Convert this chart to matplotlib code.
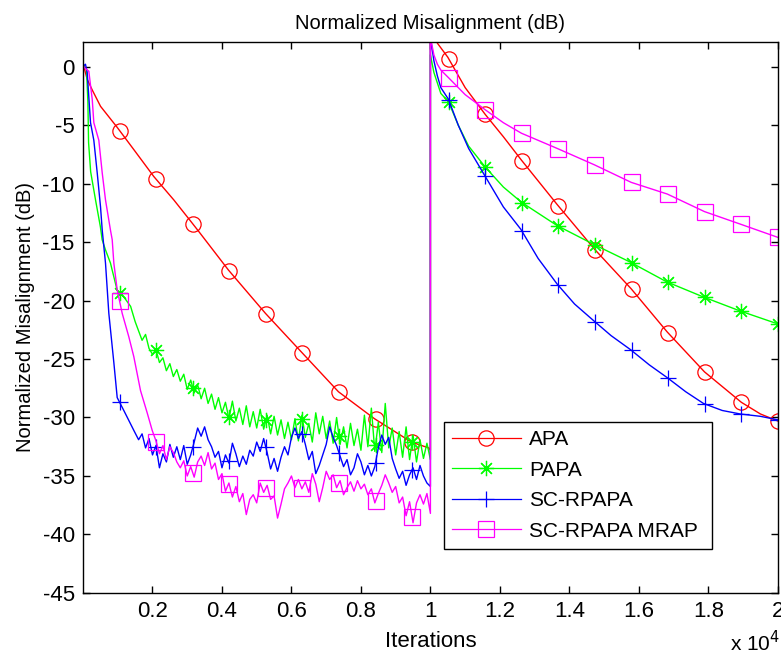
import numpy as np
import matplotlib
matplotlib.use("Agg")
import matplotlib.pyplot as plt
from matplotlib.lines import Line2D

plt.rcParams["font.family"] = ["Liberation Sans", "DejaVu Sans"]
plt.rcParams["axes.unicode_minus"] = False

# ---- data (iterations, dB) ----
names = ["APA", "PAPA", "SC-RPAPA", "SC-RPAPA MRAP"]
colors = ["#ff0000", "#00ff00", "#0000ff", "#ff00ff"]

apa_x = [0, 23, 121, 265, 504, 984, 1462, 2037, 2613, 3094, 3332, 4187, 5252, 6317,
         7353, 8388, 9453, 9950, 10000,
         10000, 10200, 10500, 11000, 11580, 12100, 12620, 13650, 14720, 15780, 16820,
         17890, 18950, 19500, 20000]
apa_y = [0, 0.0, -1.1, -2.0, -3.4, -5.2, -7.1, -9.4, -11.4, -13.2, -14.1, -17.4, -21.1, -24.5,
         -27.8, -30.1, -32.1, -32.6, -32.8,
         4.0, 2.0, 0.8, -1.8, -4.1, -6.0, -8.0, -11.8, -15.6, -19.0, -22.7,
         -26.1, -28.7, -29.7, -30.3]

papa_head_x = [0, 100, 140, 160, 220, 360, 500, 550, 650, 790, 980, 1200, 1370, 1500]
papa_head_y = [0, -0.2, -3.0, -6.5, -9.0, -11.4, -13.7, -14.8, -15.7, -16.8, -19.1, -19.8, -20.5, -21.8]
papa_tail_x = list(range(1600, 10001, 100))
papa_tail_y = [-22.6, -23.4, -22.9, -24.1, -24.6, -24.2, -25.3, -24.9, -26.0, -25.4,
               -26.5, -25.9, -26.9, -26.3, -27.6, -26.8, -27.9, -27.2, -28.4, -27.5,
               -28.8, -28.0, -29.3, -28.3, -29.6, -28.7, -30.1, -28.6, -30.3, -29.2,
               -30.6, -29.0, -30.8, -29.5, -30.9, -29.3, -31.0, -29.8, -31.4, -29.9,
               -31.5, -30.2, -31.8, -30.4, -31.9, -30.1, -32.0, -29.8, -31.7, -30.5,
               -32.1, -29.6, -31.4, -29.9, -31.8, -30.3, -32.2, -30.0, -32.3, -30.8,
               -32.6, -30.5, -32.4, -31.0, -32.8, -29.8, -32.5, -29.2, -32.9, -30.4,
               -33.0, -28.8, -32.6, -30.9, -33.2, -31.2, -33.4, -30.8, -33.6, -31.5,
               -33.8, -31.9, -33.5, -32.2, -33.6]
papa_2_x = [10000, 10100, 10300, 10520, 10800, 11100, 11580, 12100, 12620, 13650, 14700,
            15740, 16800, 17860, 18920, 20000]
papa_2_y = [1.0, -0.5, -2.3, -3.0, -5.0, -6.8, -8.6, -10.3, -11.6, -13.6, -15.2,
            -16.7, -18.4, -19.7, -20.9, -22.0]

sc_head_x = [0, 70, 120, 216, 311, 409, 504, 553, 647, 743, 887, 984, 1174, 1462, 1600]
sc_head_y = [0, 0.2, -0.5, -4.8, -6.3, -9.1, -12.0, -14.0, -16.8, -21.1, -25.3, -28.3, -29.4, -31.1, -31.9]
sc_tail_x = list(range(1700, 10001, 100))
sc_tail_y = [-31.4, -32.6, -31.8, -33.2, -32.4, -34.3, -33.1, -33.8, -32.3, -33.4,
             -32.5, -33.6, -32.4, -34.0, -33.2, -32.1, -30.9, -31.6, -30.8, -31.9,
             -32.5, -33.4, -32.9, -34.3, -33.2, -33.9, -32.2, -33.1, -34.2, -33.3,
             -34.0, -32.8, -33.3, -32.1, -32.9, -31.8, -33.0, -34.4, -33.5, -34.6,
             -33.4, -32.5, -33.2, -31.7, -30.9, -31.8, -31.2, -32.3, -33.6, -32.9,
             -34.8, -34.1, -33.2, -32.3, -30.8, -31.7, -32.4, -33.3, -34.2, -33.6,
             -34.9, -34.3, -33.1, -33.8, -34.9, -34.1, -35.0, -34.2, -32.6, -31.5,
             -32.3, -31.7, -33.5, -34.4, -35.2, -34.6, -35.8, -34.9, -34.3, -35.3,
             -34.1, -35.0, -35.6, -35.9]
sc_2_x = [10000, 10100, 10200, 10300, 10520, 10800, 11100, 11580, 12100, 12600, 13100,
          13650, 14150, 14690, 15200, 15760, 16300, 16820, 17350, 17860, 18400, 18920,
          19500, 20000]
sc_2_y = [2.5, 0.5, -0.8, -1.8, -2.8, -5.0, -7.0, -9.4, -12.0, -13.9, -16.4,
          -18.6, -20.3, -21.7, -23.0, -24.2, -25.5, -26.6, -27.8, -28.8, -29.4, -29.7,
          -29.9, -30.2]

mrap_head_x = [0, 167, 265, 311, 455, 553, 647, 791, 840, 887, 984, 1128, 1318, 1462,
               1655, 1847, 1991]
mrap_head_y = [0, -0.4, -2.8, -4.8, -6.3, -9.1, -11.4, -14.0, -14.8, -16.8, -19.1, -21.1,
               -23.1, -24.8, -27.7, -29.6, -31.1]
mrap_tail_x = list(range(2100, 10001, 100))
mrap_tail_y = [-32.0, -33.1, -32.4, -33.6, -32.5, -33.0, -33.8, -34.3, -33.7, -35.0,
               -34.2, -35.1, -33.8, -33.3, -34.1, -33.0, -34.4, -33.9, -35.3, -34.8,
               -36.3, -35.6, -36.8, -35.9, -37.2, -36.5, -38.3, -37.0, -36.6, -37.3,
               -35.6, -36.4, -35.8, -37.0, -36.7, -38.6, -37.4, -36.1, -35.6, -35.0,
               -36.0, -35.3, -36.1, -35.5, -36.4, -34.8, -35.7, -37.2, -36.0, -34.6,
               -35.3, -34.9, -36.0, -35.4, -36.6, -36.0, -35.5, -36.3, -35.4, -36.1,
               -35.7, -36.6, -36.1, -37.3, -36.5, -35.8, -34.9, -35.6, -36.4, -35.9,
               -37.3, -36.8, -38.4, -37.2, -39.0, -37.3, -36.6, -37.4, -36.5, -38.2]
mrap_2_x = [10000, 10100, 10200, 10300, 10520, 11000, 11580, 12100, 12620, 13650, 14720,
            15780, 16820, 17890, 18950, 20000]
mrap_2_y = [2.5, 1.0, 0.2, -0.3, -0.95, -2.4, -3.7, -4.8, -5.7, -7.0, -8.4,
            -9.9, -10.9, -12.4, -13.5, -14.6]

xtick_vals = [2000, 4000, 6000, 8000, 10000, 12000, 14000, 16000, 18000, 20000]
xtick_labels = ["0.2", "0.4", "0.6", "0.8", "1", "1.2", "1.4", "1.6", "1.8", "2"]
ytick_vals = [0, -5, -10, -15, -20, -25, -30, -35, -40, -45]
ytick_labels = ["0", "-5", "-10", "-15", "-20", "-25", "-30", "-35", "-40", "-45"]

series_x = [apa_x,
            papa_head_x + papa_tail_x + papa_2_x,
            sc_head_x + sc_tail_x + sc_2_x,
            mrap_head_x + mrap_tail_x + mrap_2_x]
series_y = [apa_y,
            papa_head_y + papa_tail_y + papa_2_y,
            sc_head_y + sc_tail_y + sc_2_y,
            mrap_head_y + mrap_tail_y + mrap_2_y]
markers = ["o", (8, 2, 0), "+", "s"]

# markers every 20000/19 iterations
mark_x = np.arange(1, 20) * 20000 / 19

fig = plt.figure(figsize=(7.81, 6.59), dpi=100)
ax = fig.add_axes([0.1063, 0.1002, 0.8896, 0.8361])

handles = []
for x, y, c, m in zip(series_x, series_y, colors, markers):
    ax.plot(x, y, color=c, lw=1.0)
    ax.plot(mark_x, np.interp(mark_x, x, y), ls="none", marker=m, ms=11,
            mfc="none", mec=c, mew=0.9)
    handles.append(Line2D([], [], color=c, lw=0.9, marker=m, ms=11, mfc="none", mec=c, mew=0.9))

ax.set_xlim(0, 20000)
ax.set_ylim(-45, 2.1)
ax.set_xticks(xtick_vals, xtick_labels, fontsize=16)
ax.set_yticks(ytick_vals, ytick_labels, fontsize=16)
ax.tick_params(direction="in", length=5, width=1, top=True, right=True, pad=6)
for s in ax.spines.values():
    s.set_linewidth(1.0)

ax.set_title("Normalized Misalignment (dB)", fontsize=14.5, pad=9)
ax.set_ylabel("Normalized Misalignment (dB)", fontsize=14.5, labelpad=5)
ax.set_xlabel("Iterations", fontsize=16, labelpad=6)
ax.text(0.931, -0.106, "x 10$^{4}$", transform=ax.transAxes, fontsize=15,
        va="baseline", ha="left")

leg = ax.legend(handles, names, loc="lower left", bbox_to_anchor=(0.519, 0.080, 0.387, 0.229),
                mode="expand", fancybox=False, edgecolor="black", framealpha=1,
                handlelength=3.3, borderaxespad=0, fontsize=15, labelspacing=0.55,
                handletextpad=0.4)
leg.get_frame().set_linewidth(1.0)

fig.savefig("out.png", dpi=100)
